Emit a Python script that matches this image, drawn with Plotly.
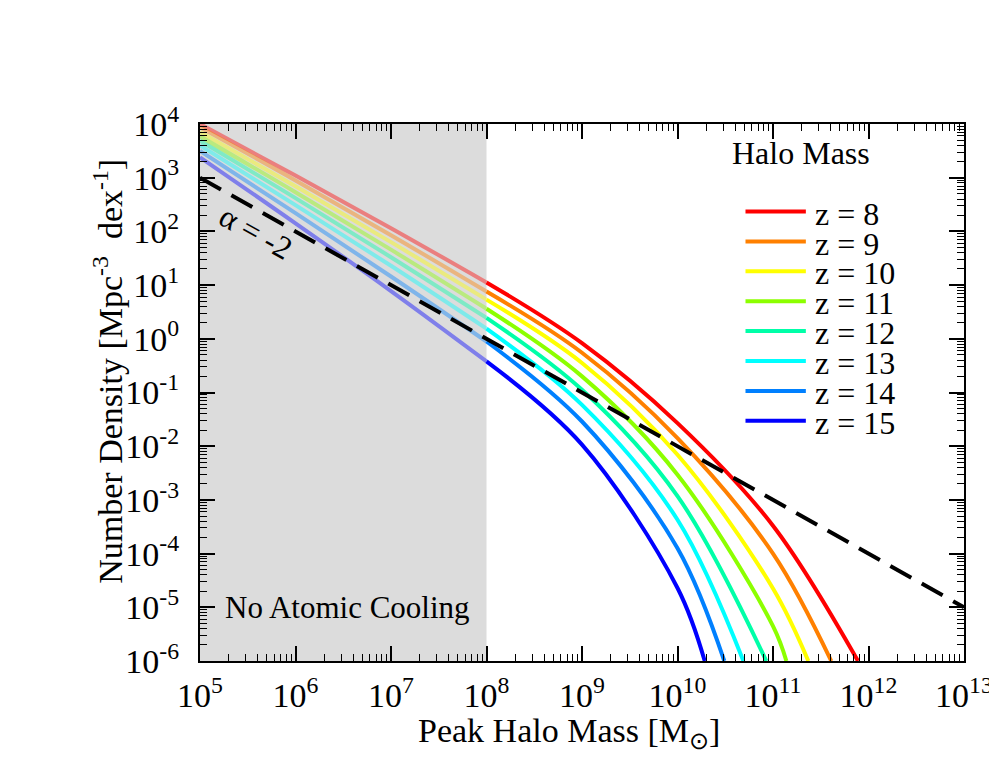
import numpy as np
import plotly.graph_objects as go

# Halo mass function (log10 values)
log_mass = [5, 6, 7, 8, 9, 10, 11]
redshifts = [8, 9, 10, 11, 12, 13, 14, 15]
colors = ['#ff0000', '#ff8000', '#ffff00', '#8cff00',
          '#00ffa8', '#00ffff', '#0080ff', '#0000ff']

dens_z8 = [4.00, 3.04, 2.06, 1.05, -0.08, -1.57, -3.48]
dens_z9 = [3.94, 2.95, 1.93, 0.88, -0.26, -1.85, -4.00]
dens_z10 = [3.85, 2.84, 1.80, 0.73, -0.45, -2.16, -4.65]
dens_z11 = [3.77, 2.73, 1.66, 0.56, -0.70, -2.53, -5.35]
dens_z12 = [3.69, 2.62, 1.52, 0.39, -0.95, -2.93]
dens_z13 = [3.60, 2.49, 1.36, 0.19, -1.23, -3.37]
dens_z14 = [3.50, 2.34, 1.16, -0.05, -1.54, -3.90]
dens_z15 = [3.38, 2.15, 0.89, -0.42, -1.97, -4.64]
densities = [dens_z8, dens_z9, dens_z10, dens_z11,
             dens_z12, dens_z13, dens_z14, dens_z15]

# mass where each curve drops to 1e-6 (bottom of the plot)
log_mass_exit = [11.89, 11.61, 11.37, 11.14, 10.93, 10.69, 10.49, 10.285]
log_dens_floor = -6

# alpha = -2 power law
alpha_mass = [1e5, 1e13]
alpha_dens = [1e3, 1e-5]

# tick labels
x_exps = list(range(5, 14))
y_exps = list(range(-6, 5))

serif = 'Liberation Serif'

fig = go.Figure()

for z, col, dens, mexit in zip(redshifts, colors, densities, log_mass_exit):
    x = np.power(10.0, log_mass[:len(dens)] + [mexit])
    y = np.power(10.0, dens + [log_dens_floor])
    # faded part inside the no-cooling region
    fig.add_trace(go.Scatter(x=x[:4], y=y[:4], mode='lines', opacity=0.42,
                             line=dict(color=col, width=4, shape='spline'),
                             showlegend=False, hoverinfo='skip'))
    fig.add_trace(go.Scatter(x=x[3:], y=y[3:], mode='lines', name='z = %d' % z,
                             showlegend=False,
                             line=dict(color=col, width=4, shape='spline')))

fig.add_trace(go.Scatter(x=alpha_mass, y=alpha_dens, mode='lines', showlegend=False,
                         line=dict(color='black', width=4, dash='24px,12px')))

axis_common = dict(type='log', showgrid=False, zeroline=False, showline=True,
                   linecolor='black', linewidth=2, mirror='allticks',
                   ticks='inside', ticklen=15, tickwidth=1.5, tickcolor='black',
                   tickfont=dict(family=serif, size=34, color='black'),
                   minor=dict(ticks='inside', ticklen=7, tickwidth=1.2,
                              tickcolor='black', dtick='D1', showgrid=False))

shapes = [dict(type='rect', xref='x', yref='paper', x0=1e5, x1=1e8, y0=0, y1=1,
               fillcolor='#dcdcdc', line=dict(width=0), layer='below')]
annotations = [
    dict(text='Halo Mass', xref='paper', yref='paper', x=0.786, y=0.946,
         xanchor='center', yanchor='middle',
         showarrow=False, font=dict(family=serif, size=32)),
    dict(text='No Atomic Cooling', xref='x', yref='y', x=6.54, y=-5.0,
         xanchor='center', yanchor='middle',
         showarrow=False, font=dict(family=serif, size=31)),
    dict(text='α = -2', xref='x', yref='y', x=5.58, y=1.98, textangle=29,
         xanchor='center', yanchor='middle',
         showarrow=False, font=dict(family=serif, size=32)),
    # axis titles
    dict(text='Number Density [Mpc<sup>-3</sup>  dex<sup>-1</sup>]',
         xref='paper', yref='paper', x=(99 - 192) / 770, y=(653 - 363) / 537,
         xanchor='center', yanchor='middle', textangle=-90,
         showarrow=False, font=dict(family=serif, size=34)),
    dict(text='Peak Halo Mass [M<sub>⊙</sub>]',
         xref='paper', yref='paper', x=(564 - 192) / 770, y=(653 - 725) / 537,
         xanchor='center', yanchor='middle',
         showarrow=False, font=dict(family=serif, size=34)),
]
# manual legend (tight row spacing like the original)
for i, (z, col) in enumerate(zip(redshifts, colors)):
    yp = (653 - (203.5 + 29.9 * i)) / 537
    shapes.append(dict(type='line', xref='paper', yref='paper',
                       x0=0.714, x1=0.793, y0=yp, y1=yp,
                       line=dict(color=col, width=4)))
    annotations.append(dict(text='z = %d' % z, xref='paper', yref='paper',
                            x=0.803, y=yp - 0.004, xanchor='left', yanchor='middle',
                            showarrow=False, font=dict(family=serif, size=32)))

fig.update_layout(
    width=997, height=770,
    plot_bgcolor='white', paper_bgcolor='white',
    margin=dict(l=192, r=35, t=116, b=117),
    font=dict(family=serif, color='black'),
    xaxis=dict(axis_common, range=[5, 13], tickmode='array',
               tickvals=[10.0 ** e for e in x_exps],
               ticktext=['10<sup>%d</sup>' % e for e in x_exps],
               ticklabelstandoff=3),
    yaxis=dict(axis_common, range=[-6, 4], tickmode='array',
               tickvals=[10.0 ** e for e in y_exps],
               ticktext=['10<sup>%d</sup>' % e for e in y_exps],
               ticklabelstandoff=12),
    shapes=shapes,
    annotations=annotations,
)

fig.write_html('out.html')
